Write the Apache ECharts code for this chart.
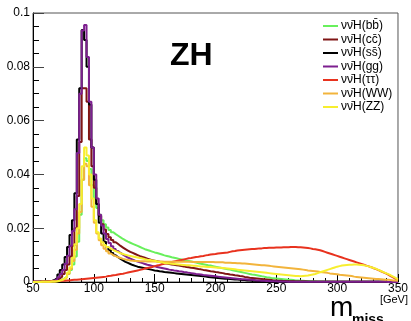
<!DOCTYPE html>
<html><head><meta charset="utf-8">
<script src="https://cdn.jsdelivr.net/npm/echarts@6/dist/echarts.min.js"></script>
<style>html,body{margin:0;padding:0;background:#fff}#c{width:411px;height:321px}</style>
</head><body><div id="c"></div>
<script>
// Histogram binning: 150 bins of 2 GeV from 50 to 350 GeV
const binLow = 50;
const binWidth = 2;
const xTicks = [50, 100, 150, 200, 250, 300, 350];
const yTicks = [0, 0.02, 0.04, 0.06, 0.08, 0.1];
const seriesNames = ['νν\u0304H(bb\u0304)', 'νν\u0304H(cc\u0304)', 'νν\u0304H(ss\u0304)', 'νν\u0304H(gg)', 'νν\u0304H(ττ)', 'νν\u0304H(WW)', 'νν\u0304H(ZZ)'];
const seriesColors = ['#68f05c', '#7f1515', '#000000', '#7d1f8f', '#e8321e', '#f2b43c', '#f7ee2f'];

const hBB = [
0.0000,0.0000,0.0001,0.0001,0.0001,0.0001,0.0002,0.0002,0.0003,0.0004,
0.0006,0.0009,0.0013,0.0020,0.0030,0.0045,0.0065,0.0095,0.0150,0.0250,
0.0380,0.0460,0.0450,0.0420,0.0360,0.0310,0.0275,0.0250,0.0230,0.0215,
0.0203,0.0193,0.0185,0.0178,0.0172,0.0166,0.0160,0.0155,0.0150,0.0146,
0.0142,0.0138,0.0134,0.0130,0.0126,0.0122,0.0119,0.0116,0.0113,0.0110,
0.0108,0.0105,0.0102,0.0099,0.0097,0.0095,0.0092,0.0090,0.0088,0.0086,
0.0084,0.0082,0.0080,0.0078,0.0076,0.0074,0.0072,0.0070,0.0068,0.0066,
0.0064,0.0062,0.0061,0.0059,0.0057,0.0055,0.0053,0.0051,0.0049,0.0047,
0.0046,0.0044,0.0042,0.0040,0.0038,0.0036,0.0034,0.0032,0.0030,0.0028,
0.0027,0.0025,0.0023,0.0021,0.0020,0.0018,0.0017,0.0015,0.0014,0.0013,
0.0012,0.0011,0.0010,0.0009,0.0008,0.0008,0.0007,0.0006,0.0006,0.0005,
0.0005,0.0004,0.0004,0.0003,0.0003,0.0003,0.0002,0.0002,0.0002,0.0002,
0.0002,0.0001,0.0001,0.0001,0.0001,0.0001,0.0001,0.0001,0.0001,0.0001,
0.0001,0.0001,0.0001,0.0001,0.0001,0.0001,0.0001,0.0001,0.0001,0.0001,
0.0001,0.0001,0.0001,0.0001,0.0001,0.0001,0.0001,0.0001,0.0001,0.0001];

const hCC = [
0.0001,0.0001,0.0001,0.0001,0.0002,0.0002,0.0003,0.0004,0.0006,0.0009,
0.0013,0.0020,0.0030,0.0045,0.0065,0.0095,0.0135,0.0200,0.0320,0.0520,
0.0720,0.0720,0.0670,0.0530,0.0430,0.0350,0.0290,0.0245,0.0215,0.0195,
0.0178,0.0166,0.0156,0.0148,0.0141,0.0134,0.0128,0.0122,0.0117,0.0112,
0.0108,0.0104,0.0100,0.0096,0.0093,0.0090,0.0087,0.0084,0.0081,0.0079,
0.0077,0.0075,0.0073,0.0071,0.0069,0.0067,0.0065,0.0064,0.0062,0.0061,
0.0059,0.0058,0.0056,0.0055,0.0053,0.0052,0.0050,0.0048,0.0047,0.0045,
0.0044,0.0042,0.0040,0.0039,0.0037,0.0036,0.0034,0.0033,0.0031,0.0030,
0.0028,0.0027,0.0025,0.0024,0.0022,0.0021,0.0019,0.0018,0.0016,0.0015,
0.0014,0.0013,0.0012,0.0011,0.0010,0.0009,0.0008,0.0007,0.0006,0.0006,
0.0005,0.0005,0.0004,0.0004,0.0003,0.0003,0.0003,0.0002,0.0002,0.0002,
0.0002,0.0002,0.0001,0.0001,0.0001,0.0001,0.0001,0.0001,0.0001,0.0001,
0.0001,0.0001,0.0001,0.0001,0.0001,0.0001,0.0001,0.0001,0.0001,0.0001,
0.0001,0.0001,0.0001,0.0001,0.0001,0.0001,0.0001,0.0001,0.0001,0.0001,
0.0001,0.0001,0.0001,0.0001,0.0001,0.0000,0.0000,0.0000,0.0000,0.0000];

const hSS = [
0.0001,0.0001,0.0002,0.0002,0.0002,0.0003,0.0004,0.0005,0.0008,0.0015,
0.0028,0.0045,0.0065,0.0093,0.0130,0.0175,0.0230,0.0330,0.0530,0.0720,
0.0937,0.0900,0.0800,0.0660,0.0500,0.0380,0.0290,0.0220,0.0180,0.0150,
0.0130,0.0118,0.0108,0.0099,0.0092,0.0086,0.0080,0.0075,0.0071,0.0067,
0.0063,0.0060,0.0057,0.0055,0.0053,0.0051,0.0049,0.0047,0.0045,0.0043,
0.0042,0.0040,0.0039,0.0037,0.0036,0.0035,0.0034,0.0033,0.0032,0.0031,
0.0030,0.0029,0.0028,0.0027,0.0026,0.0025,0.0024,0.0023,0.0022,0.0021,
0.0020,0.0019,0.0018,0.0017,0.0016,0.0015,0.0014,0.0013,0.0012,0.0012,
0.0011,0.0010,0.0009,0.0009,0.0008,0.0007,0.0007,0.0006,0.0006,0.0005,
0.0005,0.0004,0.0004,0.0003,0.0003,0.0003,0.0002,0.0002,0.0002,0.0002,
0.0001,0.0001,0.0001,0.0001,0.0001,0.0001,0.0001,0.0001,0.0001,0.0001,
0.0001,0.0001,0.0001,0.0001,0.0001,0.0001,0.0001,0.0001,0.0001,0.0001,
0.0001,0.0001,0.0001,0.0001,0.0001,0.0001,0.0001,0.0001,0.0001,0.0001,
0.0001,0.0001,0.0001,0.0001,0.0001,0.0001,0.0001,0.0001,0.0001,0.0001,
0.0001,0.0001,0.0001,0.0001,0.0001,0.0000,0.0000,0.0000,0.0000,0.0000];

const hGG = [
0.0001,0.0001,0.0001,0.0001,0.0002,0.0002,0.0003,0.0004,0.0006,0.0010,
0.0018,0.0030,0.0045,0.0068,0.0098,0.0135,0.0190,0.0270,0.0480,0.0700,
0.0935,0.0955,0.0836,0.0670,0.0500,0.0400,0.0310,0.0250,0.0210,0.0180,
0.0160,0.0145,0.0133,0.0123,0.0115,0.0108,0.0102,0.0096,0.0091,0.0087,
0.0083,0.0079,0.0076,0.0073,0.0070,0.0067,0.0064,0.0062,0.0060,0.0058,
0.0056,0.0054,0.0052,0.0050,0.0048,0.0046,0.0045,0.0043,0.0042,0.0040,
0.0039,0.0037,0.0036,0.0034,0.0033,0.0032,0.0030,0.0029,0.0028,0.0026,
0.0025,0.0024,0.0023,0.0022,0.0021,0.0020,0.0019,0.0018,0.0017,0.0016,
0.0015,0.0014,0.0013,0.0012,0.0011,0.0010,0.0010,0.0009,0.0008,0.0008,
0.0007,0.0006,0.0006,0.0005,0.0005,0.0004,0.0004,0.0003,0.0003,0.0003,
0.0002,0.0002,0.0002,0.0002,0.0001,0.0001,0.0001,0.0001,0.0001,0.0001,
0.0001,0.0001,0.0001,0.0001,0.0001,0.0001,0.0001,0.0001,0.0001,0.0001,
0.0001,0.0001,0.0001,0.0001,0.0001,0.0001,0.0001,0.0001,0.0001,0.0001,
0.0001,0.0001,0.0001,0.0001,0.0001,0.0001,0.0001,0.0001,0.0001,0.0001,
0.0001,0.0001,0.0001,0.0001,0.0001,0.0000,0.0000,0.0000,0.0000,0.0000];

const hTT = [
0.0001,0.0001,0.0001,0.0002,0.0002,0.0002,0.0003,0.0003,0.0003,0.0004,
0.0004,0.0005,0.0005,0.0006,0.0006,0.0007,0.0008,0.0008,0.0009,0.0010,
0.0011,0.0012,0.0013,0.0014,0.0015,0.0016,0.0017,0.0018,0.0019,0.0020,
0.0022,0.0023,0.0025,0.0026,0.0028,0.0030,0.0031,0.0033,0.0035,0.0037,
0.0039,0.0041,0.0043,0.0045,0.0047,0.0050,0.0052,0.0054,0.0056,0.0059,
0.0061,0.0063,0.0066,0.0068,0.0070,0.0072,0.0074,0.0076,0.0078,0.0080,
0.0082,0.0084,0.0086,0.0088,0.0089,0.0091,0.0093,0.0094,0.0096,0.0097,
0.0099,0.0100,0.0102,0.0103,0.0104,0.0106,0.0107,0.0108,0.0109,0.0110,
0.0112,0.0114,0.0115,0.0117,0.0118,0.0119,0.0120,0.0121,0.0122,0.0123,
0.0123,0.0124,0.0125,0.0125,0.0126,0.0126,0.0127,0.0127,0.0127,0.0128,
0.0128,0.0128,0.0129,0.0129,0.0129,0.0130,0.0130,0.0130,0.0129,0.0129,
0.0128,0.0127,0.0126,0.0125,0.0123,0.0122,0.0120,0.0118,0.0115,0.0112,
0.0109,0.0106,0.0103,0.0100,0.0097,0.0094,0.0091,0.0088,0.0085,0.0082,
0.0079,0.0076,0.0073,0.0070,0.0067,0.0064,0.0061,0.0058,0.0055,0.0051,
0.0048,0.0044,0.0040,0.0036,0.0032,0.0027,0.0022,0.0017,0.0012,0.0007];

const hWW = [
0.0000,0.0000,0.0001,0.0001,0.0001,0.0001,0.0001,0.0002,0.0002,0.0003,
0.0004,0.0007,0.0011,0.0017,0.0030,0.0048,0.0078,0.0120,0.0180,0.0260,
0.0380,0.0440,0.0430,0.0360,0.0280,0.0220,0.0180,0.0155,0.0137,0.0124,
0.0114,0.0106,0.0100,0.0096,0.0092,0.0089,0.0086,0.0084,0.0082,0.0080,
0.0079,0.0078,0.0078,0.0077,0.0077,0.0077,0.0076,0.0076,0.0076,0.0076,
0.0076,0.0076,0.0076,0.0075,0.0075,0.0075,0.0075,0.0075,0.0075,0.0075,
0.0075,0.0075,0.0075,0.0075,0.0075,0.0074,0.0074,0.0074,0.0074,0.0074,
0.0074,0.0074,0.0074,0.0074,0.0073,0.0073,0.0073,0.0073,0.0072,0.0072,
0.0072,0.0071,0.0071,0.0070,0.0070,0.0069,0.0069,0.0068,0.0067,0.0066,
0.0065,0.0064,0.0063,0.0062,0.0062,0.0061,0.0060,0.0059,0.0058,0.0057,
0.0056,0.0055,0.0054,0.0053,0.0052,0.0051,0.0050,0.0049,0.0048,0.0047,
0.0046,0.0045,0.0043,0.0042,0.0041,0.0040,0.0039,0.0037,0.0036,0.0035,
0.0034,0.0032,0.0031,0.0030,0.0029,0.0027,0.0026,0.0025,0.0024,0.0023,
0.0022,0.0020,0.0019,0.0018,0.0017,0.0016,0.0015,0.0014,0.0013,0.0012,
0.0011,0.0011,0.0010,0.0009,0.0008,0.0008,0.0007,0.0006,0.0006,0.0005];

const hZZ = [
0.0000,0.0000,0.0000,0.0001,0.0001,0.0001,0.0001,0.0002,0.0002,0.0003,
0.0005,0.0008,0.0013,0.0020,0.0035,0.0055,0.0090,0.0140,0.0200,0.0290,
0.0430,0.0500,0.0470,0.0400,0.0310,0.0230,0.0185,0.0162,0.0148,0.0138,
0.0130,0.0124,0.0119,0.0115,0.0111,0.0107,0.0104,0.0101,0.0099,0.0097,
0.0095,0.0093,0.0091,0.0089,0.0087,0.0085,0.0083,0.0082,0.0080,0.0079,
0.0076,0.0074,0.0073,0.0071,0.0070,0.0069,0.0068,0.0067,0.0066,0.0065,
0.0064,0.0063,0.0062,0.0062,0.0061,0.0060,0.0060,0.0059,0.0058,0.0058,
0.0057,0.0056,0.0056,0.0055,0.0054,0.0053,0.0053,0.0052,0.0051,0.0050,
0.0049,0.0048,0.0047,0.0046,0.0045,0.0044,0.0043,0.0042,0.0041,0.0040,
0.0039,0.0038,0.0037,0.0036,0.0035,0.0034,0.0033,0.0032,0.0031,0.0030,
0.0029,0.0028,0.0027,0.0026,0.0025,0.0024,0.0023,0.0022,0.0022,0.0021,
0.0022,0.0023,0.0024,0.0026,0.0028,0.0030,0.0033,0.0036,0.0039,0.0042,
0.0045,0.0048,0.0051,0.0054,0.0057,0.0059,0.0061,0.0062,0.0063,0.0064,
0.0064,0.0065,0.0065,0.0064,0.0063,0.0062,0.0060,0.0058,0.0055,0.0052,
0.0049,0.0045,0.0041,0.0037,0.0033,0.0029,0.0025,0.0020,0.0015,0.0010];

const histograms = [hBB, hCC, hSS, hGG, hTT, hWW, hZZ];

function toSteps(vals) {
  const pts = vals.map((v, i) => [binLow + i * binWidth, v]);
  pts.push([binLow + vals.length * binWidth, vals[vals.length - 1]]);
  return pts;
}

const FONT = '"Liberation Sans", Arimo, Helvetica, Arial, sans-serif';
const chart = echarts.init(document.getElementById('c'), null, {renderer: 'canvas'});
chart.setOption({
  animation: false,
  backgroundColor: '#fff',
  grid: {left: 33, right: 3, top: 13, bottom: 39, show: true, borderColor: '#555', borderWidth: 1, backgroundColor: 'transparent'},
  legend: {
    orient: 'vertical', left: 318, top: 15, itemWidth: 15, itemHeight: 2, itemGap: 1.5,
    icon: 'rect',
    data: seriesNames,
    textStyle: {fontFamily: FONT, fontSize: 12, color: '#000', lineHeight: 12, padding: [0,0,0,-2]},
    selectedMode: false
  },
  xAxis: {
    type: 'value', min: xTicks[0], max: xTicks[xTicks.length - 1], interval: 50,
    axisLine: {lineStyle: {color: '#000', width: 1}},
    axisTick: {inside: true, length: 8, lineStyle: {color: '#000'}},
    minorTick: {show: true, splitNumber: 5, length: 4, lineStyle: {color: '#000'}},
    splitLine: {show: false},
    axisLabel: {fontFamily: FONT, fontSize: 12, color: '#000', margin: 1, showMinLabel: true, showMaxLabel: true}
  },
  yAxis: {
    type: 'value', min: yTicks[0], max: yTicks[yTicks.length - 1], interval: 0.02,
    axisLine: {show: true, lineStyle: {color: '#000', width: 1}},
    axisTick: {show: true, inside: true, length: 11, lineStyle: {color: '#444'}},
    minorTick: {show: true, splitNumber: 4, length: 6, lineStyle: {color: '#000'}},
    splitLine: {show: false},
    axisLabel: {fontFamily: FONT, fontSize: 12, color: '#000', margin: 3,
      formatter: v => (v === 0 ? '0' : String(+v.toFixed(2)))}
  },
  series: histograms.map((h, k) => ({
    name: seriesNames[k], type: 'line', step: 'end', symbol: 'none', z: 2 + k,
    data: toSteps(h), color: seriesColors[k],
    lineStyle: {width: 2, color: seriesColors[k]}
  })),
  graphic: [
    {type: 'text', left: 170, top: 40, style: {text: 'ZH', font: 'bold 32px ' + FONT, fill: '#000'}},
    {type: 'text', left: 330, top: 294, style: {text: 'm', font: '28px ' + FONT, fill: '#000'}},
    {type: 'text', left: 352, top: 313, style: {text: 'miss', font: 'bold 14px ' + FONT, fill: '#000'}},
    {type: 'text', right: 3, top: 294, style: {text: '[GeV]', font: '11px ' + FONT, fill: '#000'}}
  ]
});
</script></body></html>
